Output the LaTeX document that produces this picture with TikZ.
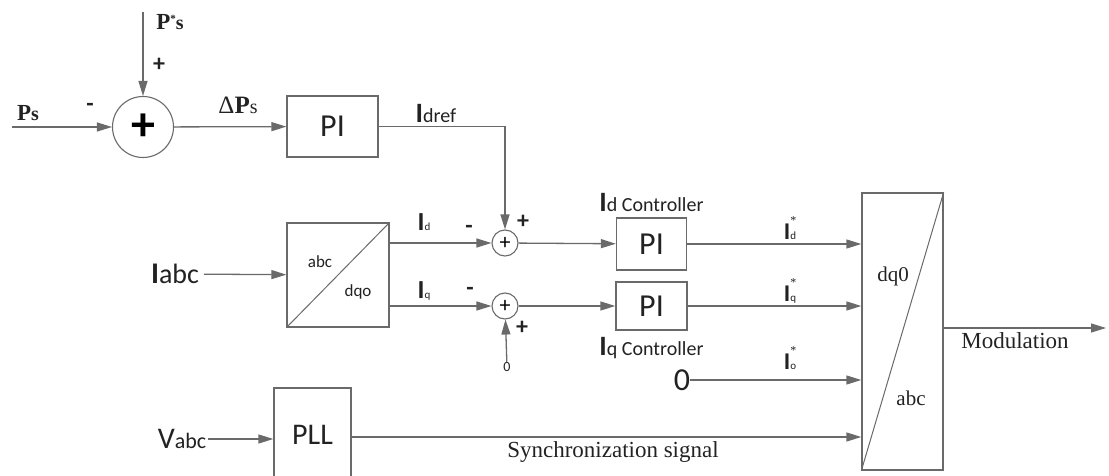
\documentclass[tikz,border=0pt]{standalone}
\usepackage{fontspec}
\setmainfont{Liberation Serif}
\newfontfamily\calfont{Carlito}
\usetikzlibrary{positioning, arrows.meta, calc}

\definecolor{linegray}{HTML}{6A6A6A}
\definecolor{inkgray}{HTML}{222222}

% font sizes in pt (picture is drawn in px = pt)
\newcommand{\fsz}[1]{\fontsize{#1}{#1}\selectfont}
\newcommand{\curlbl}[1]{{\calfont\fsz{26}\bfseries I}{\calfont\fsz{11}#1}}
\newcommand{\reflbl}[1]{{\calfont\fsz{24}\bfseries I}\rlap{\raisebox{15pt}{\fsz{12}*}}{\calfont\fsz{11}#1}}

\begin{document}
\begin{tikzpicture}[
    x=1pt, y=-1pt,
    block/.style={draw=linegray, line width=1.3pt, fill=white, shape=rectangle, font=\calfont\fsz{32}, text=inkgray},
    sumnode/.style={draw=linegray, line width=1.1pt, circle, inner sep=0pt},
    arrow/.style={-{Triangle[length=15pt, width=9pt]}, line width=1.3pt, draw=linegray},
    wire/.style={line width=1.3pt, draw=linegray},
    sign/.style={font=\calfont\fsz{24}\bfseries, text=inkgray, inner sep=0pt},
    lbl/.style={text=inkgray, inner sep=0pt}
]
    \useasboundingbox (0,0) rectangle (1109,476);

    % Power loop
    \node[sumnode, minimum size=61pt] (sum1) at (143,127) {\calfont\fsz{48}\bfseries +};
    \coordinate (psin) at (12,127);
    \coordinate (psref) at (143,12);
    \node[block, minimum width=91pt, minimum height=61pt] (pi1) at (332.5,126.5) {PI};
    \node[lbl, font=\bfseries\fsz{23}] (ps) at (28,113) {P\fsz{20}s};
    \node[lbl, font=\bfseries\fsz{23}] (psstar) at (170,22) {P\raisebox{7pt}{\fsz{11}*}\fsz{20}s};
    \node[sign] at (90,107) {-};
    \node[sign] at (159,65) {+};
    \node[lbl, font=\fsz{25}] (dps) at (238,105) {Δ\textbf{P}\fsz{20}s};
    \node[lbl] (idref) at (436,113) {{\calfont\fsz{28}\bfseries I}{\calfont\fsz{20}dref}};

    \draw[arrow] (psin) -- (sum1);
    \draw[arrow] (psref) -- (sum1);
    \draw[arrow] (sum1) -- (pi1);

    % Current loop
    \node[block, minimum width=102pt, minimum height=104pt] (park) at (338,275) {};
    \draw[wire, line width=1pt] (park.south west) -- (park.north east);
    \node[lbl, font=\calfont\fsz{17}] at (320,262) {abc};
    \node[lbl, font=\calfont\fsz{17}] at (358,292) {dqo};
    \node[lbl, outer sep=5pt] (iabc) at (175,274) {{\calfont\fsz{30}\bfseries I}{\calfont\fsz{28}abc}};

    \node[sumnode, minimum size=26pt] (sumd) at (505,243) {\calfont\fsz{22}+};
    \node[sumnode, minimum size=26pt] (sumq) at (505,306) {\calfont\fsz{22}+};
    \node[lbl, font=\calfont\fsz{14}] (zeroq) at (507,367) {0};
    \node[lbl] at (424,222) {\curlbl{d}};
    \node[lbl] at (424,291) {\curlbl{q}};
    \node[sign] at (469,229) {-};
    \node[sign] at (523,222) {+};
    \node[sign] at (470,291) {-};
    \node[sign] at (522,328) {+};

    \draw[arrow] (iabc) -- (park);
    \draw[arrow] (pi1) -| (sumd);
    \draw[arrow] (park.east |- sumd) -- (sumd);
    \draw[arrow] (park.east |- sumq) -- (sumq);
    \draw[arrow] (zeroq) -- (sumq);

    \node[block, minimum width=70pt, minimum height=52pt] (pid) at (651.5,244) {PI};
    \node[block, minimum width=71pt, minimum height=48pt] (piq) at (651.5,306) {PI};
    \node[lbl, above=6pt of pid] {{\calfont\fsz{28}\bfseries I}{\calfont\fsz{20}d Controller}};
    \node[lbl, below=6pt of piq] {{\calfont\fsz{28}\bfseries I}{\calfont\fsz{20}q Controller}};
    \draw[arrow] (sumd) -- (pid);
    \draw[arrow] (sumq) -- (piq);

    % Inverse transform
    \node[block, minimum width=81pt, minimum height=277pt] (inv) at (902.5,331.5) {};
    \draw[wire, line width=1pt] (inv.south west) -- (inv.north east);
    \node[lbl, font=\fsz{21}] at (893,276) {dq0};
    \node[lbl, font=\fsz{21}] at (911,398) {abc};

    \node[lbl, font=\calfont\fsz{32}] (zero0) at (682,380) {0};
    \node[lbl] at (790,228) {\reflbl{d}};
    \node[lbl] at (790,291) {\reflbl{q}};
    \node[lbl] at (790,358) {\reflbl{o}};
    \draw[arrow] (pid) -- (pid -| inv.west);
    \draw[arrow] (piq) -- (piq -| inv.west);
    \draw[arrow] (zero0) -- (zero0 -| inv.west);

    \coordinate (modout) at (1106,328);
    \draw[arrow] (inv.east |- modout) -- (modout);
    \node[lbl, font=\fsz{23}] at (1015,341) {Modulation};

    % PLL
    \node[block, font=\calfont\fsz{30}, minimum width=77pt, minimum height=98pt] (pll) at (312.5,437) {\raisebox{4pt}{PLL}};
    \node[lbl, outer sep=2pt] (vabc) at (182,439) {{\calfont\fsz{30}V}{\calfont\fsz{22}abc}};
    \draw[arrow] (vabc) -- (vabc -| pll.west);
    \draw[arrow] (pll) -- (pll -| inv.west);
    \node[lbl, font=\fsz{23}] at (613,452) {Synchronization signal};

\end{tikzpicture}
\end{document}
